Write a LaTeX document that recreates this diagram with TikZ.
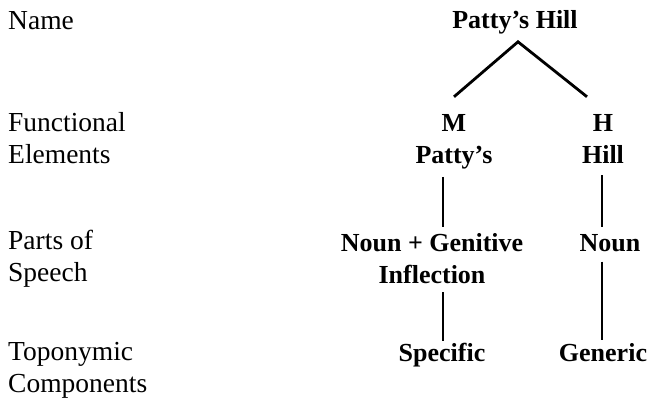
\documentclass[tikz,border=0pt]{standalone}
\usepackage{fontspec}
\setmainfont{Liberation Serif}
\usetikzlibrary{calc}
\begin{document}
\begin{tikzpicture}[x=1pt,y=-1pt,
  lbl/.style={anchor=base west,align=left,inner sep=0pt,
    font=\fontsize{27.5}{32}\selectfont},
  tnode/.style={anchor=base,align=center,inner sep=0pt,
    font=\fontsize{26}{32}\selectfont\bfseries},
  branch/.style={line width=2.8pt},
  stem/.style={line width=1.9pt}]
\useasboundingbox (0,0) rectangle (655,404);

% level labels (base anchor = baseline of the last line)
\node[lbl] (lname) at (8,30)  {Name};
\node[lbl] (lfunc) at (8,163) {Functional\\Elements};
\node[lbl] (lpos)  at (8,281) {Parts of\\Speech};
\node[lbl] (ltop)  at (8,392) {Toponymic\\Components};

% tree
\node[tnode] (root) at (515,29)  {Patty’s Hill};
\node[tnode] (m)  at (454,163) {M\\Patty’s};
\node[tnode] (h)  at (603,163) {H\\Hill};
\node[tnode] (pm) at (432,283) {Noun + Genitive\\Inflection};
\node[tnode] (ph) at (610,251) {Noun};
\node[tnode] (cm) at (442,361) {Specific};
\node[tnode] (ch) at (603,361) {Generic};

% branches from the name
\draw[branch] ($(m.north)+(0,-17)$) -- ($(root.south)+(3,7)$) -- ($(h.north)+(-16,-17)$);

% stems
\draw[stem] ($(m.south -| pm.north)+(11,8)$) -- ($(pm.north)+(11,-6)$);
\draw[stem] ($(pm.south)+(11,9)$) -- ($(cm.north -| pm.south)+(11,-1)$);
\draw[stem] ($(h.south)+(-1,12)$) -- ($(ph.north -| h.south)+(-1,-7)$);
\draw[stem] ($(ph.south -| ch.north)+(-1,10)$) -- ($(ch.north)+(-1,-3)$);
\end{tikzpicture}
\end{document}
